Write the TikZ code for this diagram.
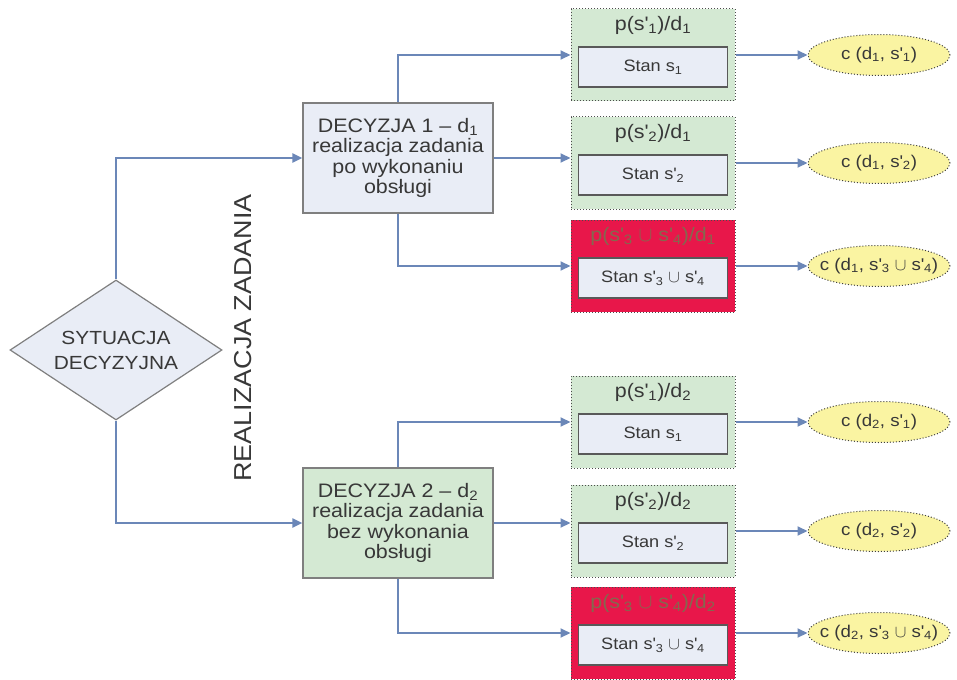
\documentclass[tikz,border=0pt]{standalone}
\usepackage{fontspec}
\setmainfont{Liberation Sans}[FakeStretch=1.1]
\usetikzlibrary{shapes.geometric,arrows.meta}
\newcommand\lo[1]{\textsubscript{#1}}
\newcommand\apo{\textquotesingle}
\definecolor{txt}{HTML}{383838}
\definecolor{conncol}{HTML}{6B87B8}
\definecolor{bluefill}{HTML}{E9EDF6}
\definecolor{greenfill}{HTML}{D4E9D3}
\definecolor{redfill}{HTML}{E8174A}
\definecolor{redtitle}{HTML}{85684E}
\definecolor{yellowfill}{HTML}{FAF4A2}
\definecolor{bordergray}{HTML}{7F7F7F}
\newcommand\outcome[7]{%
  \node[gbox,fill=#3] (g#1) at (653,#2) {};
  \path (g#1.center) ++(0,-30) node[gtitle,text=#4] (t#1) {#5};
  \path (g#1.center) ++(0,12) node[ibox] (i#1) {#6};
  \node[cell] (e#1) at (879,#2) {#7};
  \draw[conn] (g#1.east) -- (e#1.west);
}
\begin{document}
\begin{tikzpicture}[x=1pt,y=-1pt,
  every node/.style={text=txt},
  conn/.style={draw=conncol,line width=2pt,-{Triangle[length=10pt,width=9pt]}},
  decbox/.style={draw=bordergray,line width=1.2pt,minimum width=190pt,minimum height=110pt,
    align=center,font=\fontsize{19.5}{20.5}\selectfont,inner sep=0pt},
  gbox/.style={draw=black!70,dotted,line width=1pt,minimum width=164pt,minimum height=92pt,inner sep=0pt},
  gtitle/.style={font=\fontsize{19.5}{19.5}\selectfont,inner sep=0pt},
  ibox/.style={draw=black!65,line width=1.5pt,fill=bluefill,minimum width=149pt,minimum height=40pt,
    inner sep=0pt,font=\fontsize{16.5}{17}\selectfont},
  cell/.style={ellipse,draw=black!75,dotted,line width=1pt,fill=yellowfill,minimum width=142pt,
    minimum height=41pt,inner ysep=0pt,inner xsep=-15pt,font=\fontsize{17}{17}\selectfont},
]
\useasboundingbox (0,0) rectangle (957,679);

% decision situation
\node[diamond,aspect=1.514,draw=bordergray,line width=1.2pt,fill=bluefill,minimum width=212pt,
  minimum height=140pt,inner sep=0pt,align=center,font=\fontsize{19}{25}\selectfont]
  (dia) at (116,350) {SYTUACJA\\DECYZYJNA};

\node[rotate=90,font=\fontsize{24.5}{25}\selectfont,inner sep=0pt] (lbl) at (243,338) {REALIZACJA ZADANIA};

% decisions
\node[decbox,fill=bluefill] (d1) at (398,158)
  {DECYZJA 1 -- d\lo{1}\\realizacja zadania\\po wykonaniu\\obsługi};
\node[decbox,fill=greenfill] (d2) at (398,523)
  {DECYZJA 2 -- d\lo{2}\\realizacja zadania\\bez wykonania\\obsługi};

\draw[conn] (dia.north) |- (d1.west);
\draw[conn] (dia.south) |- (d2.west);

% outcomes
\outcome{A}{55}{greenfill}{txt}{p(s\apo\lo{1})/d\lo{1}}{Stan s\lo{1}}{c (d\lo{1}, s\apo\lo{1})}
\outcome{B}{163}{greenfill}{txt}{p(s\apo\lo{2})/d\lo{1}}{Stan s\apo\lo{2}}{c (d\lo{1}, s\apo\lo{2})}
\outcome{C}{266}{redfill}{redtitle}{p(s\apo\lo{3} $\cup$ s\apo\lo{4})/d\lo{1}}{Stan s\apo\lo{3} $\cup$ s\apo\lo{4}}{c (d\lo{1}, s\apo\lo{3} $\cup$ s\apo\lo{4})}
\outcome{D}{422}{greenfill}{txt}{p(s\apo\lo{1})/d\lo{2}}{Stan s\lo{1}}{c (d\lo{2}, s\apo\lo{1})}
\outcome{E}{531}{greenfill}{txt}{p(s\apo\lo{2})/d\lo{2}}{Stan s\apo\lo{2}}{c (d\lo{2}, s\apo\lo{2})}
\outcome{F}{633}{redfill}{redtitle}{p(s\apo\lo{3} $\cup$ s\apo\lo{4})/d\lo{2}}{Stan s\apo\lo{3} $\cup$ s\apo\lo{4}}{c (d\lo{2}, s\apo\lo{3} $\cup$ s\apo\lo{4})}

\draw[conn] (d1.north) |- (gA.west);
\draw[conn] (d1.east) -- (d1.east -| gB.west);
\draw[conn] (d1.south) |- (gC.west);
\draw[conn] (d2.north) |- (gD.west);
\draw[conn] (d2.east) -- (d2.east -| gE.west);
\draw[conn] (d2.south) |- (gF.west);
\end{tikzpicture}
\end{document}
